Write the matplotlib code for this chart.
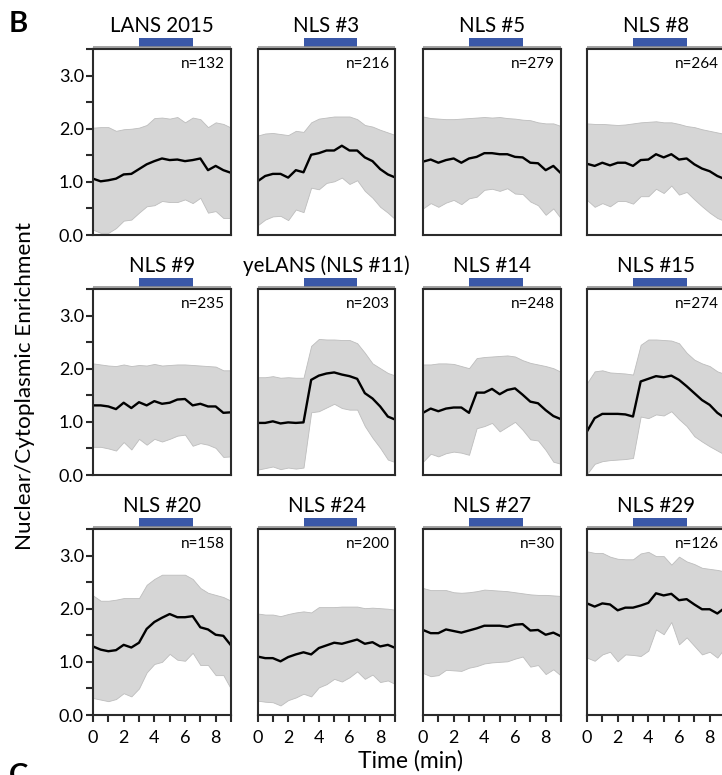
import matplotlib
matplotlib.use("Agg")
import matplotlib.pyplot as plt
from matplotlib.patches import Rectangle
from matplotlib.ticker import MultipleLocator

plt.rcParams['font.family'] = ['Lato', 'DejaVu Sans']

# sampling times (min)
t = [0, 0.5, 1, 1.5, 2, 2.5, 3, 3.5, 4, 4.5, 5, 5.5, 6, 6.5, 7, 7.5, 8, 8.5, 9]

titles = ["LANS 2015", "NLS #3", "NLS #5", "NLS #8",
          "NLS #9", "yeLANS (NLS #11)", "NLS #14", "NLS #15",
          "NLS #20", "NLS #24", "NLS #27", "NLS #29"]
counts = [132, 216, 279, 264, 235, 203, 248, 274, 158, 200, 30, 126]

# light-on window (min)
light_on = (3.0, 6.5)

# mean and +/- SD envelope for each construct
lans_mean = [1.06, 1.01, 1.03, 1.06, 1.14, 1.15, 1.24, 1.33, 1.39, 1.44, 1.41, 1.42, 1.39, 1.41, 1.44, 1.22, 1.30, 1.22, 1.17]
lans_hi = [2.02, 2.03, 2.03, 1.96, 1.99, 2.00, 2.02, 2.07, 2.20, 2.21, 2.19, 2.22, 2.12, 2.21, 2.18, 2.03, 2.12, 2.09, 2.02]
lans_lo = [0.10, 0.04, 0.04, 0.13, 0.27, 0.29, 0.42, 0.54, 0.56, 0.64, 0.62, 0.62, 0.67, 0.60, 0.70, 0.42, 0.45, 0.32, 0.32]

nls3_mean = [1.01, 1.11, 1.15, 1.15, 1.08, 1.22, 1.18, 1.51, 1.54, 1.59, 1.59, 1.68, 1.59, 1.59, 1.46, 1.39, 1.24, 1.14, 1.08]
nls3_hi = [1.87, 1.91, 1.92, 1.90, 1.88, 1.96, 1.94, 2.12, 2.19, 2.21, 2.23, 2.23, 2.23, 2.18, 2.07, 2.04, 1.98, 1.93, 1.88]
nls3_lo = [0.18, 0.29, 0.35, 0.36, 0.28, 0.48, 0.43, 0.89, 0.86, 0.98, 1.01, 1.08, 0.96, 1.03, 0.83, 0.70, 0.53, 0.42, 0.29]

nls5_mean = [1.38, 1.42, 1.36, 1.41, 1.44, 1.36, 1.44, 1.47, 1.54, 1.54, 1.52, 1.52, 1.47, 1.46, 1.36, 1.35, 1.22, 1.30, 1.16]
nls5_hi = [2.23, 2.20, 2.19, 2.18, 2.18, 2.19, 2.20, 2.21, 2.22, 2.21, 2.22, 2.20, 2.19, 2.17, 2.16, 2.12, 2.10, 2.10, 2.05]
nls5_lo = [0.50, 0.60, 0.53, 0.61, 0.66, 0.58, 0.69, 0.72, 0.85, 0.87, 0.83, 0.88, 0.78, 0.77, 0.63, 0.56, 0.38, 0.50, 0.31]

nls8_mean = [1.34, 1.30, 1.36, 1.31, 1.36, 1.36, 1.30, 1.41, 1.42, 1.52, 1.46, 1.52, 1.42, 1.44, 1.33, 1.25, 1.20, 1.11, 1.05]
nls8_hi = [2.10, 2.09, 2.09, 2.08, 2.07, 2.08, 2.10, 2.12, 2.13, 2.14, 2.12, 2.12, 2.09, 2.05, 2.03, 1.99, 1.96, 1.93, 1.90]
nls8_lo = [0.66, 0.53, 0.60, 0.54, 0.64, 0.64, 0.59, 0.73, 0.73, 0.87, 0.79, 0.93, 0.76, 0.81, 0.67, 0.54, 0.42, 0.32, 0.26]

nls9_mean = [1.31, 1.31, 1.29, 1.24, 1.36, 1.26, 1.37, 1.31, 1.39, 1.34, 1.36, 1.42, 1.43, 1.31, 1.34, 1.29, 1.29, 1.17, 1.18]
nls9_hi = [2.10, 2.08, 2.06, 2.05, 2.08, 2.05, 2.07, 2.06, 2.09, 2.06, 2.07, 2.08, 2.08, 2.07, 2.06, 2.05, 2.04, 1.97, 1.97]
nls9_lo = [0.53, 0.53, 0.50, 0.46, 0.62, 0.48, 0.68, 0.57, 0.68, 0.63, 0.68, 0.74, 0.76, 0.55, 0.60, 0.57, 0.51, 0.34, 0.35]

nls11_mean = [0.98, 0.98, 1.01, 0.97, 0.99, 0.98, 0.99, 1.79, 1.87, 1.91, 1.93, 1.89, 1.86, 1.81, 1.54, 1.44, 1.29, 1.10, 1.04]
nls11_hi = [1.84, 1.84, 1.86, 1.83, 1.84, 1.83, 1.83, 2.43, 2.56, 2.55, 2.55, 2.54, 2.54, 2.48, 2.30, 2.10, 2.01, 1.92, 1.87]
nls11_lo = [0.10, 0.13, 0.16, 0.11, 0.14, 0.12, 0.14, 1.18, 1.20, 1.27, 1.34, 1.26, 1.23, 1.23, 0.92, 0.70, 0.51, 0.29, 0.24]

nls14_mean = [1.17, 1.25, 1.20, 1.25, 1.27, 1.27, 1.17, 1.55, 1.55, 1.62, 1.52, 1.60, 1.63, 1.51, 1.38, 1.35, 1.22, 1.11, 1.05]
nls14_hi = [2.08, 2.08, 2.10, 2.10, 2.09, 2.05, 2.01, 2.20, 2.22, 2.23, 2.24, 2.25, 2.23, 2.16, 2.11, 2.08, 2.05, 2.01, 1.94]
nls14_lo = [0.25, 0.40, 0.35, 0.41, 0.44, 0.42, 0.38, 0.88, 0.92, 0.98, 0.82, 0.91, 1.00, 0.85, 0.67, 0.65, 0.47, 0.25, 0.21]

nls15_mean = [0.82, 1.07, 1.15, 1.15, 1.15, 1.14, 1.10, 1.76, 1.81, 1.86, 1.84, 1.87, 1.79, 1.67, 1.54, 1.41, 1.32, 1.17, 1.07]
nls15_hi = [1.73, 1.95, 1.97, 1.93, 1.92, 1.91, 1.89, 2.45, 2.55, 2.55, 2.54, 2.53, 2.48, 2.30, 2.17, 2.10, 2.05, 1.95, 1.90]
nls15_lo = [0.02, 0.21, 0.26, 0.28, 0.29, 0.30, 0.32, 1.10, 1.07, 1.14, 1.12, 1.20, 1.05, 0.92, 0.73, 0.63, 0.54, 0.46, 0.38]

nls20_mean = [1.29, 1.23, 1.20, 1.22, 1.32, 1.27, 1.36, 1.62, 1.75, 1.83, 1.90, 1.84, 1.84, 1.86, 1.65, 1.61, 1.51, 1.49, 1.31]
nls20_hi = [2.25, 2.15, 2.15, 2.17, 2.20, 2.20, 2.20, 2.45, 2.56, 2.64, 2.64, 2.64, 2.64, 2.56, 2.39, 2.30, 2.26, 2.22, 2.15]
nls20_lo = [0.32, 0.29, 0.26, 0.30, 0.41, 0.35, 0.50, 0.80, 0.96, 1.00, 1.15, 1.04, 1.02, 1.17, 0.94, 0.94, 0.75, 0.75, 0.49]

nls24_mean = [1.10, 1.07, 1.07, 1.01, 1.09, 1.14, 1.18, 1.14, 1.26, 1.31, 1.36, 1.34, 1.38, 1.42, 1.34, 1.37, 1.29, 1.32, 1.26]
nls24_hi = [1.91, 1.89, 1.89, 1.86, 1.90, 1.93, 1.95, 1.93, 2.03, 2.03, 2.03, 2.04, 2.04, 2.04, 2.01, 2.02, 2.01, 2.00, 1.98]
nls24_lo = [0.27, 0.25, 0.24, 0.18, 0.28, 0.33, 0.40, 0.35, 0.52, 0.58, 0.68, 0.63, 0.71, 0.82, 0.68, 0.76, 0.62, 0.65, 0.58]

nls27_mean = [1.60, 1.54, 1.54, 1.61, 1.58, 1.55, 1.59, 1.63, 1.68, 1.68, 1.68, 1.66, 1.70, 1.71, 1.59, 1.60, 1.51, 1.55, 1.48]
nls27_hi = [2.39, 2.35, 2.35, 2.35, 2.31, 2.30, 2.31, 2.33, 2.36, 2.35, 2.34, 2.33, 2.31, 2.29, 2.27, 2.26, 2.26, 2.25, 2.24]
nls27_lo = [0.79, 0.73, 0.75, 0.85, 0.84, 0.83, 0.89, 0.92, 0.97, 0.99, 1.00, 1.01, 1.06, 1.10, 0.91, 0.94, 0.77, 0.86, 0.74]

nls29_mean = [2.10, 2.04, 2.10, 2.08, 1.97, 2.02, 2.02, 2.06, 2.11, 2.29, 2.25, 2.28, 2.16, 2.18, 2.08, 1.99, 1.99, 1.91, 2.02]
nls29_hi = [3.08, 3.05, 3.05, 2.98, 2.94, 2.93, 2.93, 3.04, 3.07, 2.99, 2.99, 2.83, 2.98, 2.89, 2.84, 2.77, 2.75, 2.73, 2.70]
nls29_lo = [1.08, 1.02, 1.14, 1.19, 1.01, 1.14, 1.13, 1.11, 1.21, 1.61, 1.52, 1.75, 1.33, 1.46, 1.30, 1.14, 1.19, 1.08, 1.27]

means = [lans_mean, nls3_mean, nls5_mean, nls8_mean, nls9_mean, nls11_mean,
         nls14_mean, nls15_mean, nls20_mean, nls24_mean, nls27_mean, nls29_mean]
highs = [lans_hi, nls3_hi, nls5_hi, nls8_hi, nls9_hi, nls11_hi,
         nls14_hi, nls15_hi, nls20_hi, nls24_hi, nls27_hi, nls29_hi]
lows = [lans_lo, nls3_lo, nls5_lo, nls8_lo, nls9_lo, nls11_lo,
        nls14_lo, nls15_lo, nls20_lo, nls24_lo, nls27_lo, nls29_lo]

W, H = 722, 775
fig = plt.figure(figsize=(W / 100, H / 100), dpi=100)

frame = '#2b2b2b'
pw, ph = 138, 186
lefts = [93, 257.5, 423, 587]
tops = [49, 289, 529]

for k in range(12):
    r, c = divmod(k, 4)
    ax = fig.add_axes([lefts[c] / W, (H - tops[r] - ph) / H, pw / W, ph / H])
    ax.fill_between(t, lows[k], highs[k], facecolor='#d6d6d6',
                    edgecolor='#bdbdbd', lw=0.6, zorder=1)
    ax.plot(t, means[k], color='black', lw=1.7, zorder=2)
    ax.set_xlim(0, 9)
    ax.set_ylim(0, 3.5)
    for s in ax.spines.values():
        s.set_color(frame)
        s.set_linewidth(1.5)

    # light stimulus bar and the thin rail under it
    tr = ax.get_xaxis_transform()
    ax.plot([0, 9], [1.011, 1.011], transform=tr, color='#8a8a8a', lw=1.1,
            clip_on=False, solid_capstyle='butt')
    ax.add_patch(Rectangle((light_on[0], 1.013), light_on[1] - light_on[0], 0.047,
                           transform=tr, facecolor='#3a58a8', edgecolor='none',
                           clip_on=False))

    ax.text(0.5, 1.09, titles[k], transform=ax.transAxes, ha='center',
            va='baseline', fontsize=14.8)
    ax.text(1 - 6 / pw, 1 - 19 / ph, f"n={counts[k]}", transform=ax.transAxes,
            ha='right', va='baseline', fontsize=11)

    ax.tick_params(which='both', direction='out', length=5, width=1.5,
                   color=frame, labelsize=13, pad=1.5)
    if c == 0:
        ax.yaxis.set_major_locator(MultipleLocator(1.0))
        ax.yaxis.set_minor_locator(MultipleLocator(0.5))
        ax.set_yticklabels([f"{v:.1f}" for v in ax.get_yticks()])
    else:
        ax.set_yticks([])
        ax.set_yticks([], minor=True)
    if r == 2:
        ax.set_xticks([0, 2, 4, 6, 8])
        ax.set_xticks([1, 3, 5, 7, 9], minor=True)
        ax.tick_params(axis='x', which='both', pad=6)
    else:
        ax.set_xticks([])
        ax.set_xticks([], minor=True)

fig.text(25 / W, (H - 386) / H, "Nuclear/Cytoplasmic Enrichment", rotation=90,
         ha='center', va='center', fontsize=16.2)
fig.text(410 / W, (H - 768) / H, "Time (min)", ha='center', va='baseline',
         fontsize=16.5)
fig.text(9 / W, (H - 11) / H, "B", ha='left', va='top', fontsize=21,
         fontweight='bold')
fig.text(9 / W, (H - 763) / H, "C", ha='left', va='top', fontsize=21,
         fontweight='bold')

fig.savefig("out.png", dpi=100)
